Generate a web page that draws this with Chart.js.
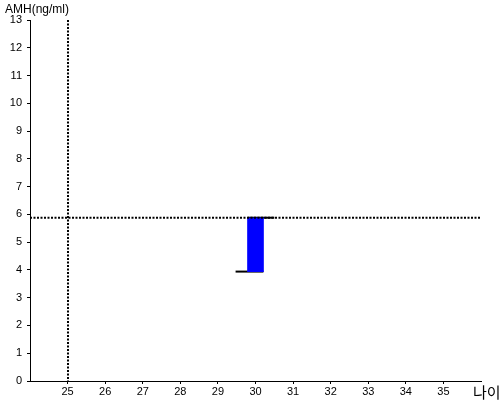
<!DOCTYPE html>
<html><head><meta charset="utf-8">
<script src="https://cdn.jsdelivr.net/npm/chart.js@4"></script>
<style>html,body{margin:0;padding:0;background:#fff}#wrap{width:500px;height:400px}</style>
</head><body><div id="wrap"><canvas id="c" width="500" height="400"></canvas></div>
<script>
// Data
const barX = [30];
const barRange = [[3.94, 5.88]];
const topLine = [{x: 29.79, y: 5.88}, {x: 30.5, y: 5.88}];
const bottomLine = [{x: 29.47, y: 3.94}, {x: 30.21, y: 3.94}];
const refAge = 25;
const refAMH = 5.88;
const xTickLabels = [25, 26, 27, 28, 29, 30, 31, 32, 33, 34, 35];
const yTickLabels = [0, 1, 2, 3, 4, 5, 6, 7, 8, 9, 10, 11, 12, 13];
const xTitle = '나이';
const yTitle = 'AMH(ng/ml)';

const font = {family: 'Arial, "Liberation Sans", sans-serif', size: 11};

const refLines = {
  id: 'refLines',
  afterDatasetsDraw(chart) {
    const {ctx, chartArea: a, scales: {x, y}} = chart;
    ctx.save();
    ctx.strokeStyle = '#000';
    ctx.lineWidth = 2;
    ctx.setLineDash([2, 1.5]);
    const px = Math.round(x.getPixelForValue(refAge));
    ctx.beginPath(); ctx.moveTo(px, a.top); ctx.lineTo(px, a.bottom); ctx.stroke();
    const py = y.getPixelForValue(refAMH);
    ctx.beginPath(); ctx.moveTo(a.left, py); ctx.lineTo(a.right, py); ctx.stroke();
    ctx.restore();
  },
  afterDraw(chart) {
    const {ctx} = chart;
    ctx.save();
    ctx.fillStyle = '#000';
    ctx.font = '12px Arial, "Liberation Sans", sans-serif';
    ctx.textBaseline = 'top';
    ctx.fillText(yTitle, 5, 4);
    ctx.font = '15px "Noto Sans CJK KR", sans-serif';
    ctx.textBaseline = 'bottom';
    ctx.fillText(xTitle, 473, 400);
    ctx.restore();
  }
};

new Chart(document.getElementById('c'), {
  data: {
    datasets: [
      {type: 'bar', data: barX.map((v, i) => ({x: v, y: barRange[i]})),
       backgroundColor: '#0000ff', borderColor: '#000', borderWidth: 0,
       barThickness: 16, borderSkipped: false},
      {type: 'line', data: topLine, borderColor: '#000', borderWidth: 2, pointRadius: 0, fill: false},
      {type: 'line', data: bottomLine, borderColor: '#000', borderWidth: 2, pointRadius: 0, fill: false}
    ]
  },
  options: {
    responsive: false,
    animation: false,
    events: [],
    layout: {padding: {left: 0, top: 20, right: 19, bottom: 0}},
    plugins: {legend: {display: false}, tooltip: {enabled: false}},
    scales: {
      x: {
        type: 'linear', min: 24, max: 36, offset: false,
        afterBuildTicks(s) { s.ticks = xTickLabels.map(v => ({value: v})); },
        afterFit(s) { s.height = 19; },
        grid: {drawOnChartArea: false, offset: false, tickLength: 3, color: '#000'},
        border: {display: true, color: '#000', width: 1},
        ticks: {color: '#000', font, padding: 1, maxRotation: 0, autoSkip: false}
      },
      y: {
        type: 'linear', min: 0, max: 13,
        afterBuildTicks(s) { s.ticks = yTickLabels.map(v => ({value: v})); },
        afterFit(s) { s.width = 30; },
        grid: {drawOnChartArea: false, offset: false, tickLength: 3, color: '#000'},
        border: {display: true, color: '#000', width: 1},
        ticks: {color: '#000', font, padding: 5, autoSkip: false}
      }
    }
  },
  plugins: [refLines]
});
</script></body></html>
